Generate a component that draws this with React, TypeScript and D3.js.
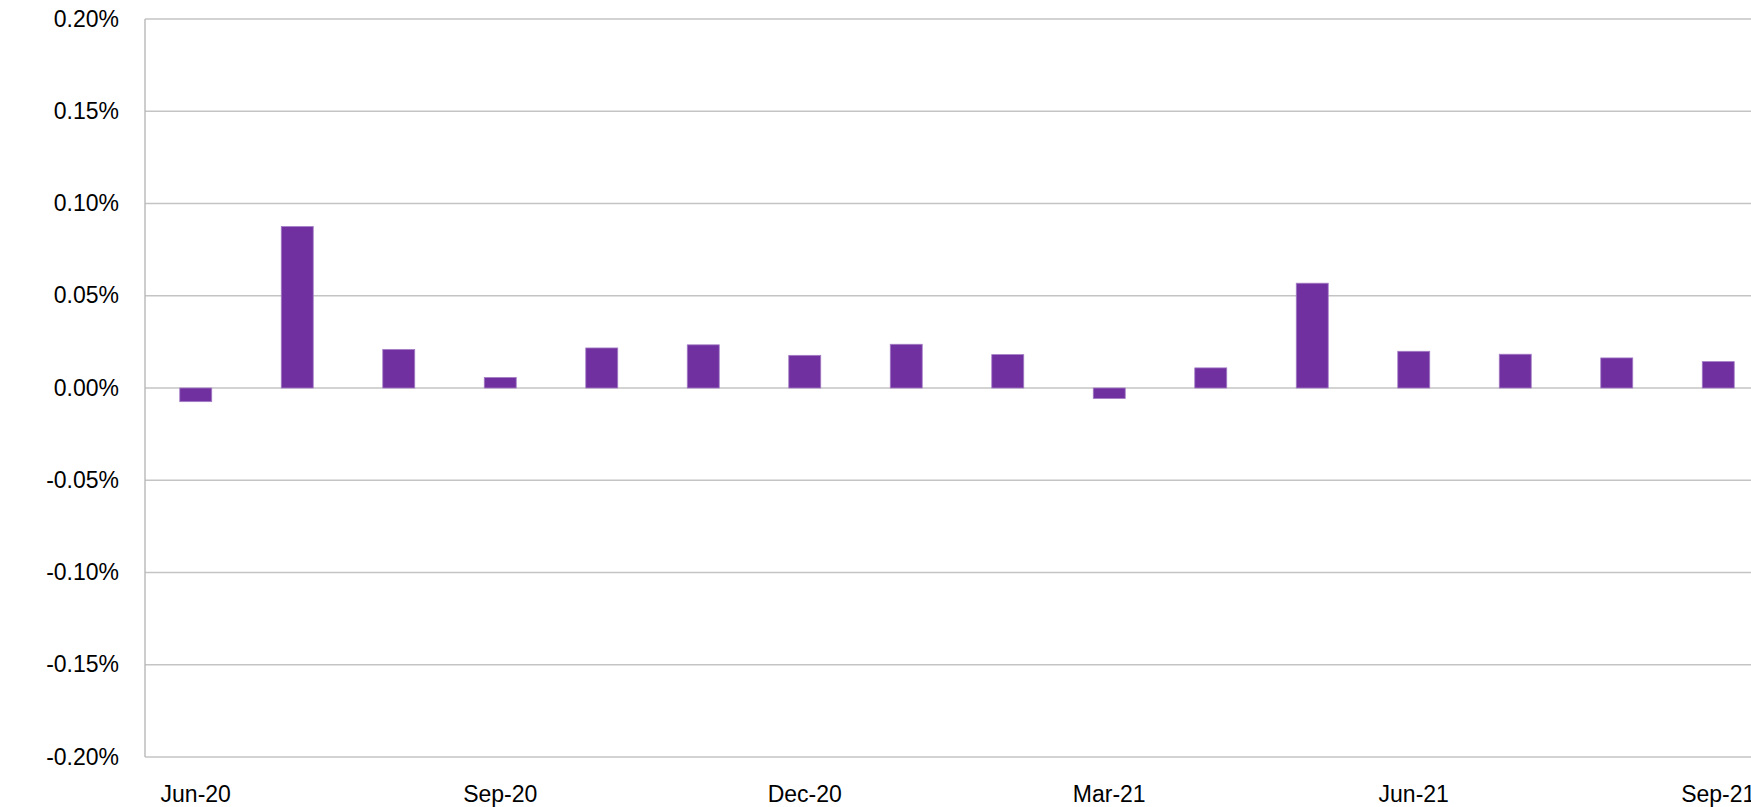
import React from 'react';
import * as d3 from 'd3';

// monthly values, in percent
const months = [
  'Jun-20', 'Jul-20', 'Aug-20', 'Sep-20', 'Oct-20', 'Nov-20', 'Dec-20', 'Jan-21',
  'Feb-21', 'Mar-21', 'Apr-21', 'May-21', 'Jun-21', 'Jul-21', 'Aug-21', 'Sep-21',
];
const values = [
  -0.0074, 0.0875, 0.0209, 0.0057, 0.0217, 0.0234, 0.0177, 0.0237,
  0.0181, -0.0057, 0.0109, 0.0568, 0.0199, 0.0183, 0.0163, 0.0143,
];
const labelledMonths = ['Jun-20', 'Sep-20', 'Dec-20', 'Mar-21', 'Jun-21', 'Sep-21'];
const yTicks = [-0.2, -0.15, -0.1, -0.05, 0, 0.05, 0.1, 0.15, 0.2];

const W = 1751;
const H = 807;
const FONT = '"Liberation Sans", Arial, sans-serif';

export default function App() {
  // plot runs past the right edge of the picture, as in the source
  const x = d3.scaleBand<string>()
    .domain(months)
    .range([145, 1769])
    .paddingInner(0.685)
    .paddingOuter(0.3425);

  const y = d3.scaleLinear().domain([-0.2, 0.2]).range([757, 19]);
  // plain hyphen for negatives, like Excel
  const fmt = (v: number) => d3.format('.2f')(v).replace('\u2212', '-') + '%';

  return (
    <svg
      width={W}
      height={H}
      style={{ position: 'absolute', left: 0, top: 0, background: '#fff' }}
      fontFamily={FONT}
    >
      {/* gridlines */}
      {yTicks.map(t => (
        <line
          key={t}
          x1={145}
          x2={W}
          y1={y(t)}
          y2={y(t)}
          stroke="#c4c4c4"
          strokeWidth={1.4}
        />
      ))}
      <line x1={145} x2={145} y1={y(0.2)} y2={y(-0.2)} stroke="#b8b8b8" strokeWidth={1.4} />

      {/* bars */}
      {months.map((m, i) => {
        const v = values[i];
        const y0 = y(Math.max(0, v));
        const y1 = y(Math.min(0, v));
        return (
          <rect
            key={m}
            x={x(m)}
            y={y0}
            width={x.bandwidth()}
            height={y1 - y0}
            fill="#7030a0"
            stroke="#a47cc4"
            strokeWidth={0.8}
          />
        );
      })}

      {/* y labels */}
      {yTicks.map(t => (
        <text
          key={t}
          x={119}
          y={y(t)}
          dy="0.33em"
          textAnchor="end"
          fontSize={23}
          fill="#000"
        >
          {fmt(t)}
        </text>
      ))}

      {/* x labels */}
      {labelledMonths.map(m => (
        <text
          key={m}
          x={(x(m) ?? 0) + x.bandwidth() / 2}
          y={802}
          textAnchor="middle"
          fontSize={23}
          fill="#000"
        >
          {m}
        </text>
      ))}
    </svg>
  );
}
